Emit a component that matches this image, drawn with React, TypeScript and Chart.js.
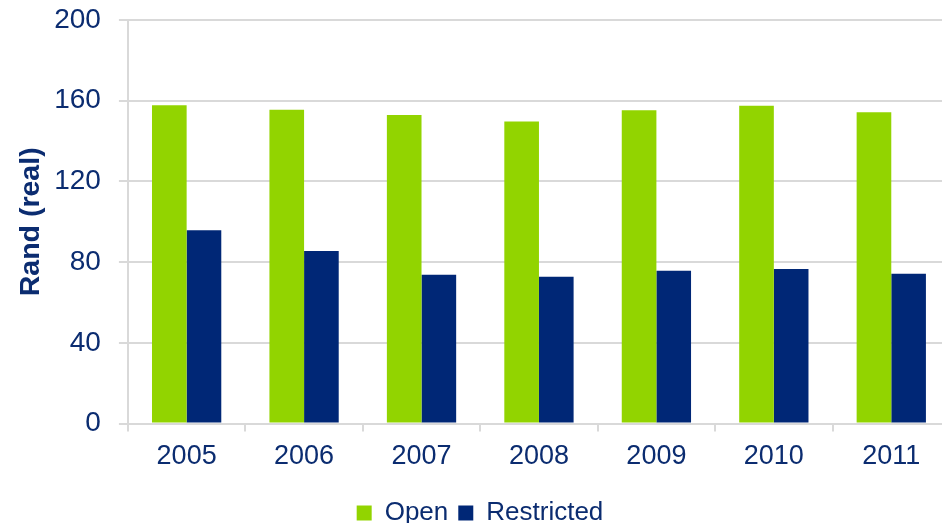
import React, { useEffect, useRef } from "react";
import { Chart, registerables } from "chart.js";

Chart.register(...registerables);

const years = ["2005", "2006", "2007", "2008", "2009", "2010", "2011"];
const openValues = [157.8, 155.5, 152.9, 149.7, 155.3, 157.5, 154.3];
const restrictedValues = [95.8, 85.5, 73.8, 72.8, 75.8, 76.6, 74.3];
const yTicks = [0, 40, 80, 120, 160, 200];

const TEXT = "#0b2c70";
const GRID = "#d9d9d9";
const FONT = "'Liberation Sans', Arial, sans-serif";

const legendShift = {
  id: "legendShift",
  afterLayout(chart: any) {
    const lg = chart.legend;
    if (!lg) return;
    const dy = 8;
    lg.top += dy;
    lg.bottom += dy;
  },
};

export default function App() {
  const ref = useRef<HTMLCanvasElement | null>(null);

  useEffect(() => {
    if (!ref.current) return;
    const chart = new Chart(ref.current, {
      type: "bar",
      data: {
        labels: years,
        datasets: [
          {
            label: "Open",
            data: openValues,
            backgroundColor: "#92d400",
            barPercentage: 1,
            categoryPercentage: 0.59,
          },
          {
            label: "Restricted",
            data: restrictedValues,
            backgroundColor: "#002776",
            barPercentage: 1,
            categoryPercentage: 0.59,
          },
        ],
      },
      plugins: [legendShift],
      options: {
        animation: false,
        responsive: true,
        maintainAspectRatio: false,
        layout: { padding: { left: 10, top: 20, right: 0, bottom: -5 } },
        plugins: {
          tooltip: { enabled: false },
          legend: {
            position: "bottom",
            labels: {
              boxWidth: 15,
              boxHeight: 15,
              padding: 10,
              color: TEXT,
              font: { family: FONT, size: 26 },
            },
          },
        },
        scales: {
          x: {
            grid: {
              display: true,
              drawOnChartArea: false,
              drawTicks: true,
              tickLength: 8,
              color: GRID,
              lineWidth: 2,
            },
            border: { display: true, color: GRID, width: 2 },
            ticks: {
              color: TEXT,
              padding: 9,
              font: { family: FONT, size: 27 },
            },
          },
          y: {
            min: 0,
            max: 200,
            afterBuildTicks: (axis: any) => {
              axis.ticks = yTicks.map((v) => ({ value: v }));
            },
            afterFit: (axis: any) => {
              axis.paddingTop = 0;
              axis.paddingBottom = 0;
            },
            grid: {
              color: GRID,
              lineWidth: 2,
              tickLength: 9,
            },
            border: { display: true, color: GRID, width: 2 },
            ticks: {
              color: TEXT,
              padding: 18,
              font: { family: FONT, size: 28 },
            },
            title: {
              display: true,
              text: "Rand (real)",
              color: TEXT,
              padding: { top: 4, bottom: -12 },
              font: { family: FONT, size: 28.5, weight: "bold" },
            },
          },
        },
      },
    });
    return () => chart.destroy();
  }, []);

  return (
    <div
      style={{
        position: "absolute",
        left: 0,
        top: 0,
        width: 942,
        height: 523,
        overflow: "hidden",
        background: "#fff",
      }}
    >
      <div style={{ position: "relative", width: 950, height: 523 }}>
        <canvas ref={ref} />
      </div>
    </div>
  );
}
